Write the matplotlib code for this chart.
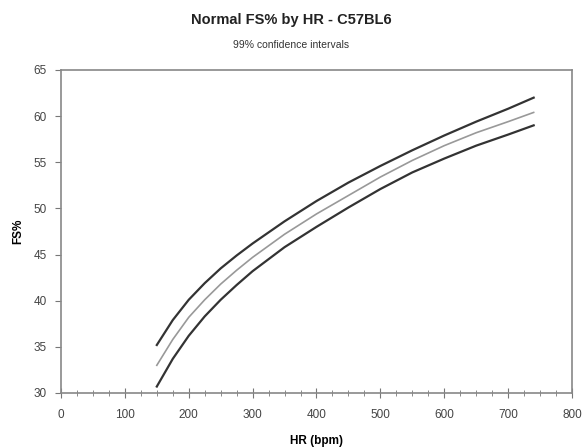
import matplotlib
matplotlib.use("Agg")
import matplotlib.pyplot as plt
from matplotlib.ticker import MultipleLocator

plt.rcParams['font.family'] = ['Liberation Sans', 'DejaVu Sans']

# HR (bpm) and FS%
hr = [150, 175, 200, 225, 250, 275, 300, 350, 400, 450, 500, 550, 600, 650, 700, 740]
fs_upper = [35.2, 37.9, 40.1, 41.9, 43.5, 44.9, 46.2, 48.6, 50.8, 52.8, 54.6, 56.3, 57.9, 59.4, 60.8, 62.0]
fs_mean = [33.0, 35.8, 38.2, 40.1, 41.8, 43.3, 44.7, 47.2, 49.4, 51.4, 53.4, 55.2, 56.8, 58.2, 59.4, 60.4]
fs_lower = [30.7, 33.7, 36.2, 38.3, 40.1, 41.7, 43.2, 45.8, 48.0, 50.1, 52.1, 53.9, 55.4, 56.8, 58.0, 59.0]

fig = plt.figure(figsize=(5.82, 4.48), dpi=100)
ax = fig.add_axes([0.1048, 0.1228, 0.878, 0.721])

ax.plot(hr, fs_upper, color='#333333', lw=1.6)
ax.plot(hr, fs_mean, color='#999999', lw=1.2)
ax.plot(hr, fs_lower, color='#333333', lw=1.6)

ax.set_xlim(0, 800)
ax.set_ylim(30, 65)
ax.xaxis.set_major_locator(MultipleLocator(100))
ax.xaxis.set_minor_locator(MultipleLocator(25))
ax.yaxis.set_major_locator(MultipleLocator(5))

for s in ax.spines.values():
    s.set_color('#888888')
    s.set_linewidth(1.2)

ax.tick_params(axis='x', which='major', direction='inout', length=7, color='#777777',
               labelsize=8.5, labelcolor='#444444', pad=8)
ax.tick_params(axis='x', which='minor', direction='inout', length=4, color='#777777')
ax.tick_params(axis='y', direction='out', length=4, color='#777777',
               labelsize=8.5, labelcolor='#444444', pad=6)

ax.set_xlabel("HR (bpm)", fontsize=8.5, fontweight='bold', labelpad=10)
ax.set_ylabel("FS%", fontsize=8.5, fontweight='bold', labelpad=7)

fig.text(0.5, 0.955, "Normal FS% by HR - C57BL6", ha='center', va='center',
         fontsize=10.5, fontweight='bold', color='#222222')
fig.text(0.5, 0.90, "99% confidence intervals", ha='center', va='center',
         fontsize=7.5, color='#333333')

fig.savefig('out.png', dpi=100)
